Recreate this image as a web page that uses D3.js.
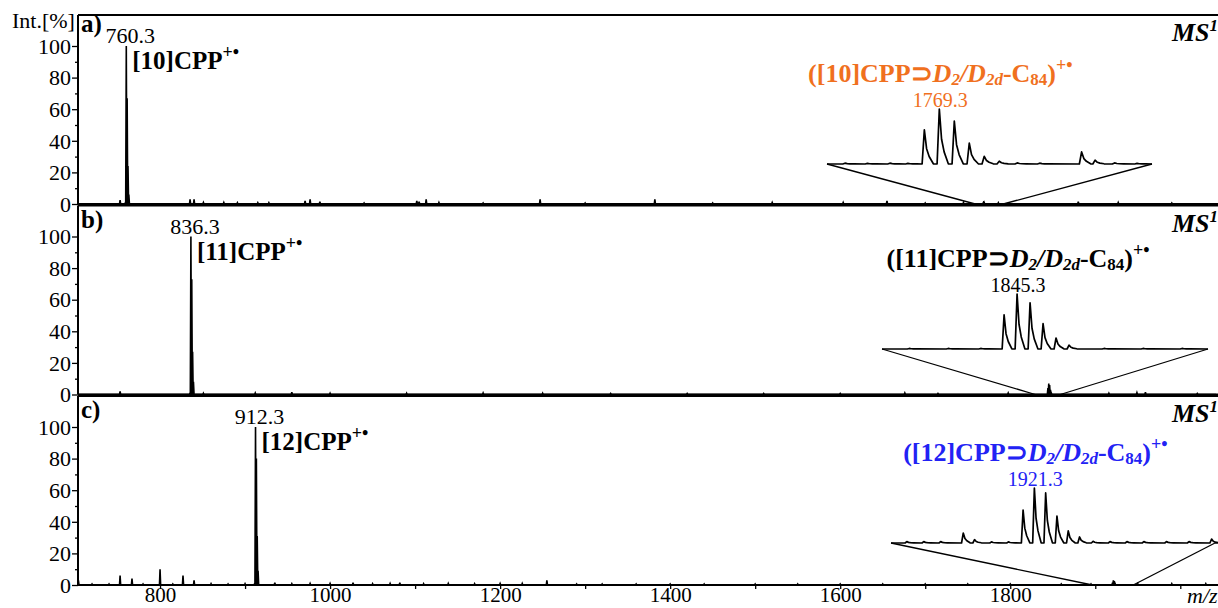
<!DOCTYPE html>
<html>
<head>
<meta charset="utf-8">
<script src="https://cdn.jsdelivr.net/npm/d3@7"></script>
<style>
body { margin: 0; background: #fff; }
svg { display: block; }
text { font-family: "Liberation Serif", "Times New Roman", serif; }
</style>
</head>
<body>
<svg width="1218" height="608"></svg>
<script>
var svg = d3.select('svg');

// axis ticks
var xTicks = d3.range(800, 2001, 100);
var xLabels = [800, 1000, 1200, 1400, 1600, 1800];
var yTicks = d3.range(0, 101, 10);
var yLabels = [0, 20, 40, 60, 80, 100];

var panelNames = ["a)", "b)", "c)"];
var hostRing = ["10", "11", "12"];
var hostMz = [760.3, 836.3, 912.3];
var complexMz = [1769.3, 1845.3, 1921.3];
var complexColor = ["#f0701e", "#000000", "#2222f4"];

// main spectra (m/z, intensity %)
var mzA = [753, 759.3, 760.3, 761.3, 762.3, 763.3, 835.3, 840, 851, 875, 891, 915, 928, 970.6, 976.5, 988, 1040, 1102, 1104.7, 1113, 1128, 1180, 1247, 1300, 1382, 1450, 1520, 1603.5, 1655, 1700, 1745, 1768.3, 1769.3, 1786, 1880, 1927, 1990];
var intA = [2.5, 1, 100, 67, 24, 6, 3, 3, 1, 1, 0.8, 0.8, 0.8, 2, 3, 1.5, 0.6, 2, 1.5, 3, 1, 0.6, 3, 0.6, 3, 0.6, 1, 1, 2, 0.6, 1, 0.8, 1, 0.8, 1.5, 1, 0.6];

var mzB = [753, 835.3, 836.3, 837.3, 838.3, 839.3, 851, 912, 955, 1000, 1090, 1180, 1250, 1330, 1420, 1510, 1600, 1676, 1715, 1797.6, 1844.3, 1845.3, 1846.3, 1847.3, 1848.3, 1916, 1949, 1959, 2020];
var intB = [2, 1, 100, 73, 27, 8, 0.8, 1, 1.5, 0.8, 0.8, 1, 0.8, 0.6, 0.6, 0.6, 0.6, 1, 0.6, 1, 4, 7, 6, 3, 1, 0.8, 1.2, 1.5, 0.6];

var mzC = [704, 720, 740, 753, 767, 780, 800, 815, 827, 840, 860, 880, 900, 911.3, 912.3, 913.3, 914.3, 915.3, 935, 955, 976.5, 1000, 1027, 1050, 1070.6, 1082, 1110, 1139, 1170, 1200, 1226, 1255, 1290, 1320, 1360, 1400, 1440, 1500, 1550, 1600, 1650, 1700, 1750, 1800, 1860, 1895, 1920.3, 1921.3, 1922.3, 1923.3, 1950, 1990, 2030];
var intC = [3, 0.6, 0.6, 6, 4, 0.6, 10, 0.6, 6, 3, 0.8, 0.6, 0.8, 1, 100, 80, 31, 9, 1.5, 0.8, 1, 1, 1.5, 0.8, 1, 1.5, 0.8, 1, 0.8, 1, 1, 3, 0.6, 0.6, 0.6, 0.6, 0.6, 0.6, 0.6, 0.6, 0.6, 0.6, 0.6, 0.6, 0.6, 0.6, 1.5, 3, 2.5, 1, 0.8, 0.8, 0.8];

// inset (zoomed complex region), relative intensity
var insetMzA = [1763, 1764.5, 1766, 1767.2, 1768.3, 1769.3, 1770.3, 1771.3, 1772.3, 1773.3, 1774.5, 1776, 1778.8, 1779.7, 1781, 1782.5];
var insetIntA = [0.015, 0.01, 0.015, 0.01, 0.62, 1.0, 0.78, 0.38, 0.14, 0.05, 0.02, 0.015, 0.22, 0.07, 0.02, 0.01];
var insetMzB = [1837, 1840, 1842.5, 1844.3, 1845.3, 1846.3, 1847.3, 1848.3, 1849.3, 1852, 1855, 1858];
var insetIntB = [0.01, 0.01, 0.01, 0.62, 1.0, 0.84, 0.46, 0.2, 0.07, 0.01, 0.01, 0.01];
var insetMzC = [1910, 1911.5, 1913, 1915, 1916, 1917.5, 1919, 1920.3, 1921.3, 1922.3, 1923.3, 1924.3, 1925.3, 1926.5, 1928, 1929.5, 1931, 1933, 1935, 1937];
var insetIntC = [0.025, 0.025, 0.025, 0.18, 0.06, 0.02, 0.02, 0.6, 1.0, 0.91, 0.49, 0.22, 0.11, 0.03, 0.025, 0.025, 0.025, 0.025, 0.025, 0.07];
var insetDomain = [[1761.8, 1783.5], [1834.9, 1860], [1908.6, 1937.3]];
var zoomRange = [[1758.8, 1791.8], [1829.4, 1858.8], [1896.5, 1944.7]];

var spectra = [
    {mz: mzA, val: intA, imz: insetMzA, ival: insetIntA},
    {mz: mzB, val: intB, imz: insetMzB, ival: insetIntB},
    {mz: mzC, val: intC, imz: insetMzC, ival: insetIntC}
];

var left = 78, right = 1216;
var x = d3.scaleLinear().domain([703.5, 2042]).range([left, right]);

// inset boxes (px)
var insetX = [[827, 1152], [882, 1208], [891, 1215]];
var insetBase = [164, 349, 543];
var insetHeight = 55;

var mainLine = d3.line().x(function(d) { return d[0]; }).y(function(d) { return d[1]; });

spectra.forEach(function(s, i) {
    var top = 15 + i * 190.5;
    var y = d3.scaleLinear().domain([0, 100]).range([top + 189, top + 31]);
    var g = svg.append("g");

    // frame line on top
    g.append("line").attr("x1", left).attr("x2", 1218).attr("y1", top).attr("y2", top)
        .attr("stroke", "#000").attr("stroke-width", 2);

    // spectrum sticks
    var pts = [[x.domain()[0], 0]];
    s.mz.forEach(function(m, k) {
        pts.push([m - 0.7, 0], [m, s.val[k]], [m + 0.7, 0]);
    });
    pts.push([x.domain()[1], 0]);
    g.append("path")
        .attr("d", mainLine(pts.map(function(p) { return [x(p[0]), y(p[1])]; })))
        .attr("fill", "#000").attr("stroke", "#000").attr("stroke-width", 1.6);

    // y axis
    var yAxis = g.append("g").attr("transform", "translate(" + left + ",0)")
        .call(d3.axisLeft(y).tickValues(yTicks).tickSizeOuter(0).tickPadding(1)
            .tickFormat(function(d) { return yLabels.indexOf(d) >= 0 ? d : ""; }));
    yAxis.select(".domain").attr("d", "M0," + top + "V" + y(0)).attr("stroke-width", 2);
    yAxis.selectAll(".tick line").attr("x2", function(d) { return d % 20 === 0 ? -6 : -3; })
        .attr("stroke-width", 1.3);
    yAxis.selectAll(".tick text").attr("font-size", 22)
        .attr("fill", "#000").attr("dy", "0.33em");

    // baseline / x axis
    var xAxis = g.append("g").attr("transform", "translate(0," + y(0) + ")")
        .call(d3.axisBottom(x).tickValues(i === 2 ? xTicks : []).tickSizeOuter(0).tickSize(4)
            .tickFormat(function(d) { return xLabels.indexOf(d) >= 0 ? d : ""; }));
    xAxis.select(".domain").attr("d", "M" + left + ",0H1218").attr("stroke-width", 2);
    xAxis.selectAll(".tick line").attr("stroke-width", 1.3);
    xAxis.selectAll(".tick text").attr("font-size", 21)
        .attr("fill", "#000").attr("y", 2).attr("dy", "0.71em");

    // panel letter
    g.append("text").attr("x", 81).attr("y", i === 0 ? top + 17 : top + 22)
        .attr("font-size", 25).attr("font-weight", "bold").text(panelNames[i]);

    // MS^1
    var ms = g.append("text").attr("x", 1172).attr("y", top + 26)
        .attr("font-size", 26).attr("font-weight", "bold").attr("font-style", "italic");
    ms.append("tspan").text("MS");
    ms.append("tspan").attr("dy", -10).attr("font-size", 17).text("1");

    // host peak labels
    var hx = x(hostMz[i]);
    g.append("text").attr("x", hx + 4).attr("y", top + 28).attr("text-anchor", "middle")
        .attr("font-size", 22).text(hostMz[i].toFixed(1));
    var hl = g.append("text").attr("x", hx + 6).attr("y", top + 54)
        .attr("font-size", 25).attr("font-weight", "bold");
    hl.append("tspan").text("[" + hostRing[i] + "]CPP");
    hl.append("tspan").attr("dy", -11).attr("font-size", 18).text("+•");

    // inset
    var ix = d3.scaleLinear().domain(insetDomain[i]).range(insetX[i]);
    var iy = d3.scaleLinear().domain([0, 1]).range([insetBase[i], insetBase[i] - insetHeight]);
    var ipts = [[insetDomain[i][0], 0]];
    s.imz.forEach(function(m, k) {
        var h = s.ival[k];
        ipts.push([m - 0.15, 0], [m, h], [m + 0.15, h * 0.45], [m + 0.32, h * 0.22], [m + 0.6, 0.004]);
    });
    ipts.push([insetDomain[i][1], 0]);
    g.append("path")
        .attr("d", mainLine(ipts.map(function(p) { return [ix(p[0]), iy(p[1])]; })))
        .attr("fill", "none").attr("stroke", "#000").attr("stroke-width", 1.7)
        .attr("stroke-linejoin", "round");

    // zoom lines down to the axis
    g.append("line").attr("x1", insetX[i][0]).attr("y1", insetBase[i])
        .attr("x2", x(zoomRange[i][0])).attr("y2", y(0))
        .attr("stroke", "#000").attr("stroke-width", 1.3);
    g.append("line").attr("x1", insetX[i][1]).attr("y1", insetBase[i])
        .attr("x2", x(zoomRange[i][1])).attr("y2", y(0))
        .attr("stroke", "#000").attr("stroke-width", 1.3);

    // complex label
    var cx = ix(complexMz[i]) + 1;
    var col = complexColor[i];
    g.append("text").attr("x", cx).attr("y", insetBase[i] - 57).attr("text-anchor", "middle")
        .attr("font-size", 20).attr("fill", col).text(complexMz[i].toFixed(1));
    var cl = g.append("text").attr("x", cx).attr("y", insetBase[i] - 82).attr("text-anchor", "middle")
        .attr("font-size", 26).attr("font-weight", "bold").attr("fill", col);
    cl.append("tspan").text("([" + hostRing[i] + "]CPP\u2283");
    cl.append("tspan").attr("font-style", "italic").text("D");
    cl.append("tspan").attr("font-style", "italic").attr("font-size", 17).attr("dy", 3).text("2");
    cl.append("tspan").attr("font-style", "italic").attr("dy", -3).text("/D");
    cl.append("tspan").attr("font-style", "italic").attr("font-size", 17).attr("dy", 3).text("2d");
    cl.append("tspan").attr("dy", -3).text("-C");
    cl.append("tspan").attr("font-size", 17).attr("dy", 3).text("84");
    cl.append("tspan").attr("dy", -3).text(")");
    cl.append("tspan").attr("font-size", 18).attr("dy", -11).text("+•");
});

// axis titles
svg.append("text").attr("x", 12).attr("y", 28).attr("font-size", 22).text("Int.[%]");
svg.append("text").attr("x", 1187).attr("y", 603).attr("font-size", 22)
    .attr("font-style", "italic").text("m/z");
</script>
</body>
</html>
